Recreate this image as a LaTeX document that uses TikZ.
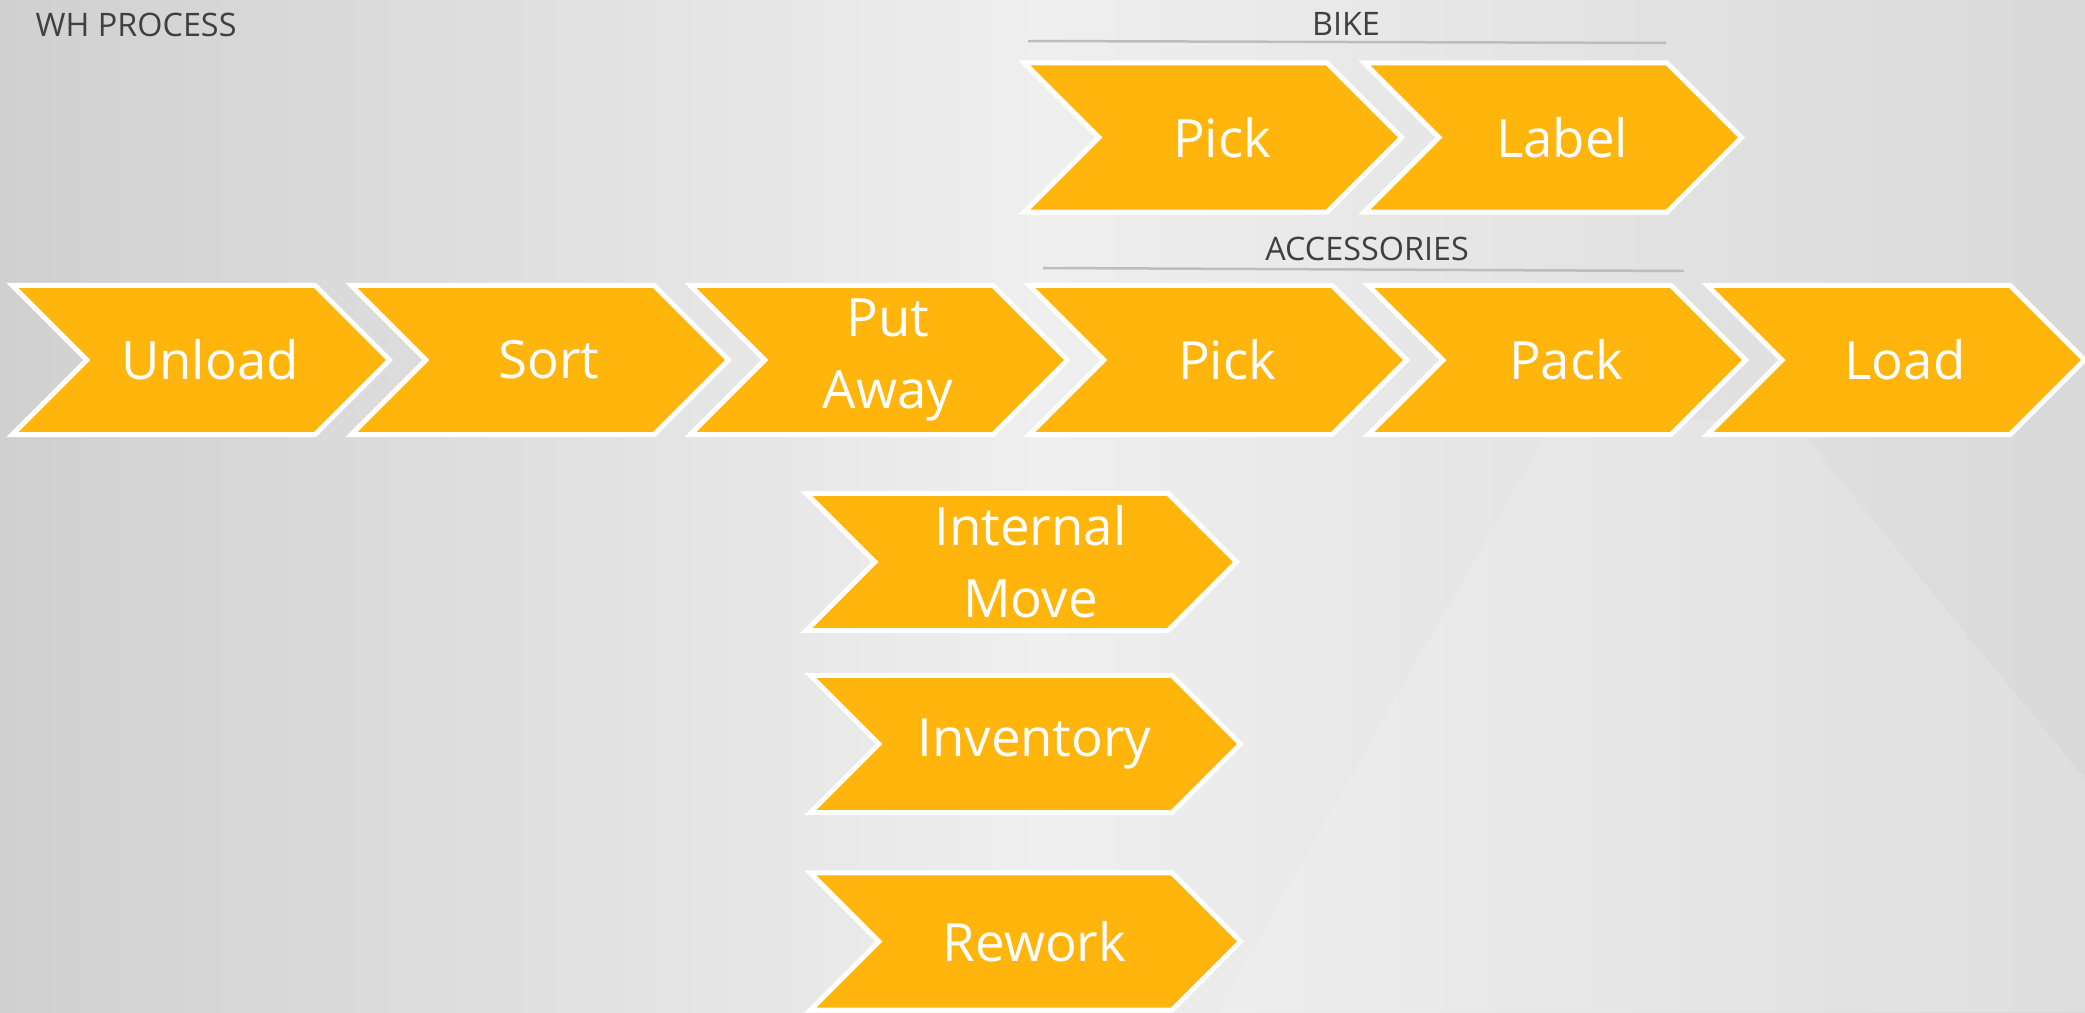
\documentclass[tikz,border=0pt]{standalone}
\usepackage{fontspec}
\setmainfont{Open Sans}
\usetikzlibrary{shapes.symbols}

\definecolor{chevfill}{HTML}{FFB50B}
\definecolor{rulegray}{HTML}{BDBDBD}
\definecolor{titlegray}{HTML}{404040}
\definecolor{bgleft}{HTML}{D0D0D0}
\definecolor{bgmid}{HTML}{EFEFEF}
\definecolor{bgright}{HTML}{D9D9D9}

\tikzset{
  chevtext/.style={text=white, align=center, inner sep=0pt, xshift=0.09cm,
    font=\fontsize{15}{20.5}\selectfont},
  chev/.style={shape=signal, signal from=west, signal to=east,
    signal pointer angle=90, fill=chevfill, draw=white, line width=0.05cm,
    minimum width=3.77cm, minimum height=1.49cm, inner sep=0pt,
    label={[chevtext]center:#1}},
  vchev/.style={chev=#1, minimum width=4.30cm, minimum height=1.37cm},
  grouptitle/.style={text=titlegray, inner sep=0pt, font=\fontsize{9.2}{11}\selectfont}
}

\begin{document}
\begin{tikzpicture}[x=0.01cm,y=-0.01cm]
		\useasboundingbox (0,0) rectangle (2085,1012);
		
		% Background
		\shade[left color=bgleft, right color=bgright, middle color=bgmid] (0,0) rectangle (2085,1012);
		\fill[white, opacity=0.15] (1554,420) -- (1217,1012) -- (2085,1012) -- (2085,779) -- (1791,420) -- cycle;
		
		% Titles
		\node[grouptitle, anchor=west] (whtitle) at (35,25) {WH PROCESS};
		\node[grouptitle] (biketitle) at (1346,23.5) {BIKE};
		\node[grouptitle] (acctitle) at (1367,249) {ACCESSORIES};
		\draw[rulegray, line width=0.025cm] (1028,41) -- (1666,43);
		\draw[rulegray, line width=0.025cm] (1043,268) -- (1684,271);
		
		% Bike branch
		\node[chev=Pick] (pickbike) at (1213,137.5) {};
		\node[chev=Label] (labelbike) at (1553,137.5) {};
		
		% Main flow
		\node[chev=Unload] (unload) at (201,360) {};
		\node[chev=Sort] (sort) at (540,360) {};
		\node[chev={Put\\Away}, every label/.append style={yshift=-0.07cm}] (putaway) at (879,360) {};
		\node[chev=Pick] (pickacc) at (1218,360) {};
		\node[chev=Pack] (pack) at (1557,360) {};
		\node[chev=Load] (load) at (1896,360) {};
		
		% Other tasks
		\node[vchev={Internal\\Move}] (internalmove) at (1021.5,562) {};
		\node[vchev=Inventory] (inventory) at (1025.5,744) {};
		\node[vchev=Rework] (rework) at (1025.5,941.5) {};
		
		\end{tikzpicture}
\end{document}
